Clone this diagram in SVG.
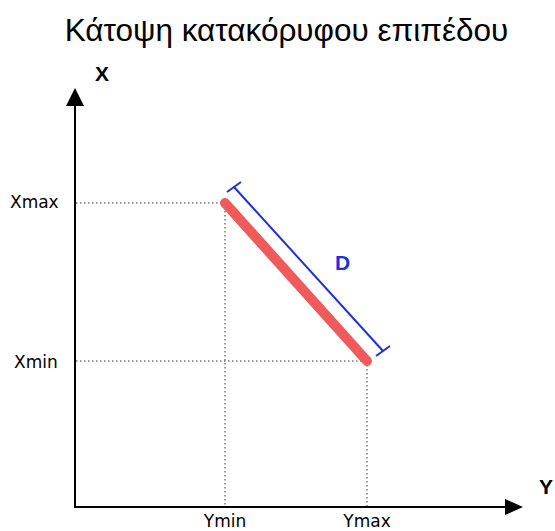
<svg xmlns="http://www.w3.org/2000/svg" width="555" height="531" viewBox="0 0 555 531">
<style>
.title{font-family:"Liberation Sans",Arial,sans-serif;font-size:31.5px;fill:#000}
.tick{font-family:"DejaVu Sans",Verdana,sans-serif;font-size:17px;fill:#000}
.axis{font-family:"Liberation Sans",Arial,sans-serif;font-size:21px;font-weight:bold;fill:#000}
.guide{stroke:#333;stroke-width:1;stroke-dasharray:1.5,2.5;fill:none}
.ax{stroke:#000;stroke-width:2;fill:none}
</style>
<rect width="555" height="531" fill="#fff"/>
<text class="title" x="286.5" y="40.5" text-anchor="middle">Κάτοψη κατακόρυφου επιπέδου</text>
<g id="guides">
<line class="guide" x1="76" y1="203" x2="225" y2="203"/>
<line class="guide" x1="76" y1="361" x2="367" y2="361"/>
<line class="guide" x1="225" y1="203" x2="225" y2="506"/>
<line class="guide" x1="367" y1="361" x2="367" y2="506"/>
</g>
<g id="axes">
<polyline class="ax" points="75,104 75,507 508,507"/>
<polygon points="75,88 66,106 84,106" fill="#000"/>
<polygon points="523,507 505,499 505,515" fill="#000"/>
</g>
<g id="labels">
<text class="axis" x="95" y="81">X</text>
<text class="axis" x="539" y="494">Y</text>
<text class="tick" x="10" y="208">Xmax</text>
<text class="tick" x="14" y="368">Xmin</text>
<text class="tick" x="225" y="527" text-anchor="middle">Ymin</text>
<text class="tick" x="367" y="527" text-anchor="middle">Ymax</text>
</g>
<g id="segment">
<line x1="225" y1="203" x2="367" y2="361" stroke="#f05a5a" stroke-width="10" stroke-linecap="round"/>
</g>
<g id="dimension">
<line x1="234" y1="187" x2="383" y2="351" stroke="#1f2fe0" stroke-width="2"/>
<line x1="227" y1="192" x2="241" y2="182" stroke="#1f2fe0" stroke-width="2"/>
<line x1="376" y1="356" x2="390" y2="346" stroke="#1f2fe0" stroke-width="2"/>
<text x="335" y="270" font-family="Liberation Sans,Arial,sans-serif" font-size="21" font-weight="bold" fill="#1f2fe0">D</text>
</g>
</svg>
